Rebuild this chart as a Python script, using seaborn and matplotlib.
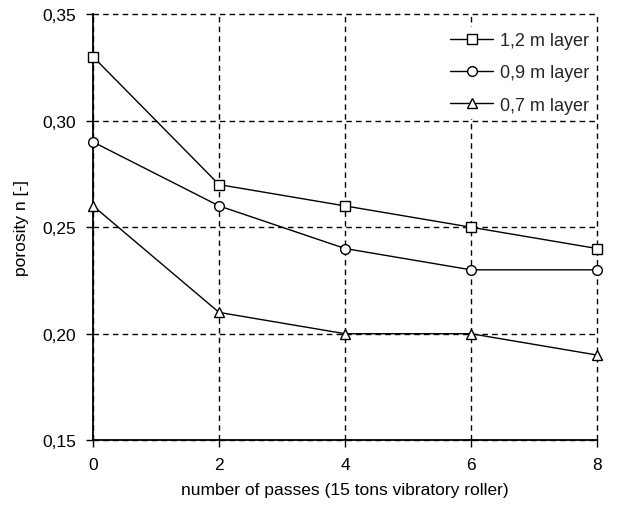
import matplotlib
matplotlib.use("Agg")
import matplotlib.pyplot as plt
import matplotlib.ticker as mticker
import seaborn as sns
import pandas as pd

passes = [0, 2, 4, 6, 8]
layer_12 = [0.33, 0.27, 0.26, 0.25, 0.24]
layer_09 = [0.29, 0.26, 0.24, 0.23, 0.23]
layer_07 = [0.26, 0.21, 0.20, 0.20, 0.19]
labels = ["1,2 m layer", "0,9 m layer", "0,7 m layer"]
markers = ["s", "o", "^"]

rows = []
for lab, vals in zip(labels, [layer_12, layer_09, layer_07]):
    for x, y in zip(passes, vals):
        rows.append({"passes": x, "porosity": y, "layer": lab})
df = pd.DataFrame(rows)

sns.set_theme(style="white")
plt.rcParams['font.family'] = ['Liberation Sans', 'DejaVu Sans']

FS = 12.5
fig = plt.figure(figsize=(6.29, 5.06), dpi=100)
ax = fig.add_axes([0.148, 0.128, 0.801, 0.842])

sns.lineplot(data=df, x="passes", y="porosity", hue="layer", style="layer",
             hue_order=labels, style_order=labels,
             palette=["black"] * 3, markers=markers, dashes=False,
             markersize=7, markerfacecolor="white", markeredgecolor="black",
             markeredgewidth=1.0, linewidth=1.0, ax=ax, zorder=3)
for ln in ax.get_lines():
    ln.set_clip_on(False)

ax.set_xlim(0, 8)
ax.set_ylim(0.15, 0.35)
ax.set_xticks([0, 2, 4, 6, 8])
ax.set_yticks([0.15, 0.20, 0.25, 0.30, 0.35])
ax.yaxis.set_major_formatter(mticker.FuncFormatter(lambda v, p: f"{v:.2f}".replace(".", ",")))
ax.grid(True, color="black", linestyle=(0, (4, 3)), linewidth=1.0, zorder=1)
ax.set_axisbelow(True)
for gl in ax.get_xgridlines() + ax.get_ygridlines():
    gl.set_clip_on(False)
for s in ["top", "right"]:
    ax.spines[s].set_visible(False)
for s in ["left", "bottom"]:
    ax.spines[s].set_color("black")
    ax.spines[s].set_linewidth(1.3)
ax.tick_params(axis="both", direction="out", length=5, width=1, color="black",
               labelsize=FS, labelcolor="black", bottom=True, left=True, pad=7)
ax.set_xlabel("number of passes (15 tons vibratory roller)", fontsize=FS, color="black", labelpad=7.5)
ax.set_ylabel("porosity n [-]", fontsize=FS, color="black", labelpad=10)

leg = ax.legend(loc="upper right", frameon=True, fontsize=13, handlelength=2.4,
                bbox_to_anchor=(1.0, 0.975), borderaxespad=0.1, labelspacing=0.85,
                handletextpad=0.4, borderpad=0.3)
leg.get_frame().set_edgecolor("none")
leg.get_frame().set_facecolor("white")
leg.get_frame().set_alpha(1)
for h in leg.get_lines():
    h.set_color("black")
    h.set_markerfacecolor("white")
    h.set_markeredgecolor("black")
    h.set_linewidth(1.0)
    h.set_markersize(7)

fig.savefig("out.png", dpi=100)
